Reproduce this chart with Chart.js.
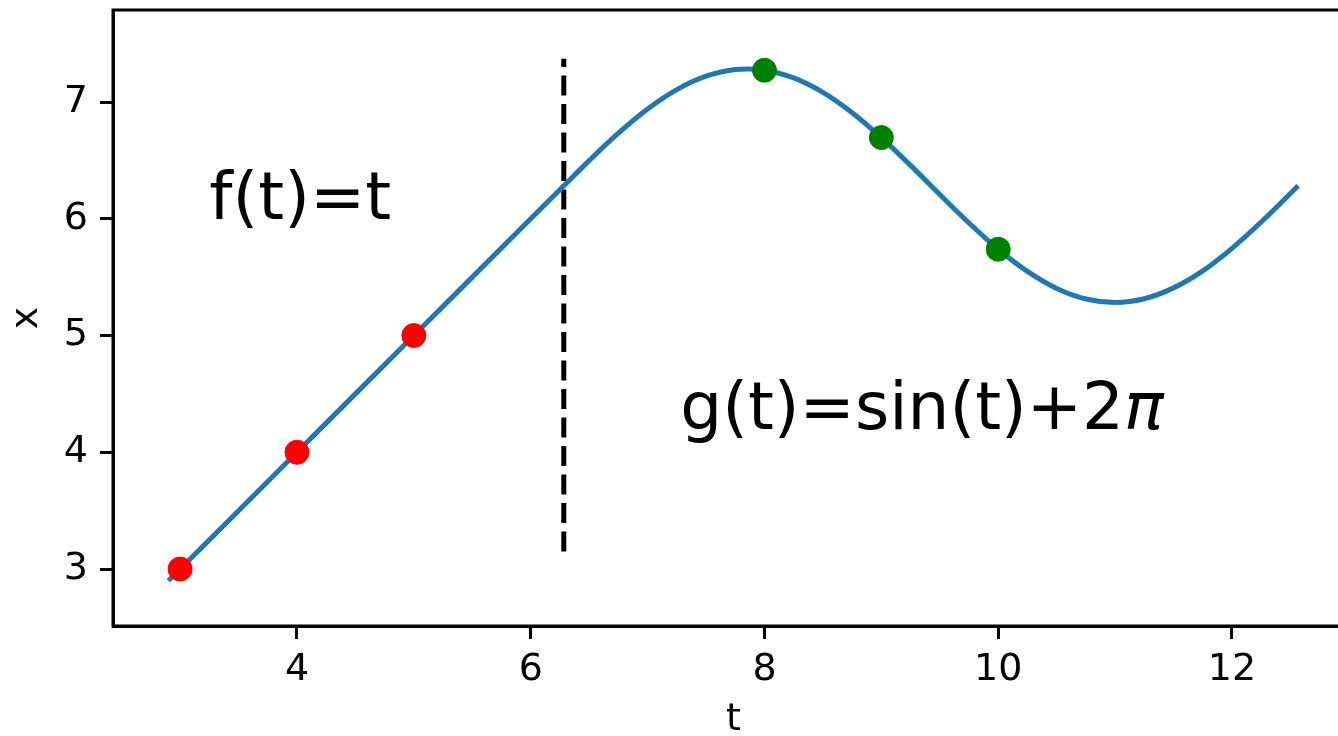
<!DOCTYPE html>
<html>
<head>
<meta charset="utf-8">
<script src="https://cdn.jsdelivr.net/npm/chart.js@4/dist/chart.umd.min.js"></script>
<style>
  html, body { margin: 0; padding: 0; background: #fff; overflow: hidden; }
  #wrap { width: 1380px; height: 736px; }
</style>
</head>
<body>
<div id="wrap"><canvas id="c" width="1380" height="736"></canvas></div>
<script>
// ---- data ----
const curveT = [2.9, 3.5, 4, 4.5, 5, 5.5, 6, 6.283, 6.5, 6.75, 7, 7.25, 7.5, 7.75, 7.854, 8, 8.25, 8.5, 8.75, 9, 9.25, 9.5, 9.75, 10, 10.25, 10.5, 10.75, 11, 11.25, 11.5, 11.75, 12, 12.25, 12.566];
const curveX = [2.9, 3.5, 4, 4.5, 5, 5.5, 6, 6.283, 6.498, 6.733, 6.94, 7.106, 7.221, 7.278, 7.283, 7.272, 7.206, 7.082, 6.908, 6.695, 6.457, 6.208, 5.964, 5.739, 5.549, 5.403, 5.313, 5.283, 5.315, 5.408, 5.554, 5.747, 5.972, 6.283];
const redT = [3, 4, 5];
const redX = [3, 4, 5];
const greenT = [8, 9, 10];
const greenX = [7.272, 6.695, 5.739];
const dashT = [6.283, 6.283];
const dashX = [3.15, 7.37];
const xTicks = [4, 6, 8, 10, 12];
const yTicks = [3, 4, 5, 6, 7];
const xTitle = 't';
const yTitle = 'x';
const fLabel = 'f(t)=t';
const gLabelMain = 'g(t)=sin(t)+2';
const gLabelPi = 'π';
const fLabelAt = [3.25, 6.0];
const gLabelAt = [7.28, 4.2];

const pts = (xs, ys) => xs.map((v, i) => ({x: v, y: ys[i]}));

Chart.defaults.font.family = '"DejaVu Sans", sans-serif';
Chart.defaults.color = '#000';

const overlay = {
  id: 'overlay',
  afterDraw(chart) {
    const {ctx, chartArea: a, scales: {x, y}} = chart;
    ctx.save();
    ctx.strokeStyle = '#000';
    ctx.lineWidth = 3;
    ctx.strokeRect(a.left, a.top, a.right - a.left, a.bottom - a.top);
    ctx.fillStyle = '#000';
    ctx.textAlign = 'left';
    ctx.textBaseline = 'alphabetic';
    ctx.font = '66px "DejaVu Sans"';
    ctx.fillText(fLabel, x.getPixelForValue(fLabelAt[0]), y.getPixelForValue(fLabelAt[1]));
    const gx = x.getPixelForValue(gLabelAt[0]);
    const gy = y.getPixelForValue(gLabelAt[1]);
    ctx.fillText(gLabelMain, gx, gy);
    const w = ctx.measureText(gLabelMain).width;
    ctx.font = 'italic 66px "DejaVu Sans"';
    ctx.fillText(gLabelPi, gx + w, gy);
    ctx.restore();
  }
};

const tickFont = {size: 38, family: '"DejaVu Sans"', lineHeight: 1.2};

new Chart(document.getElementById('c'), {
  type: 'scatter',
  data: {
    datasets: [
      {
        data: pts(redT, redX),
        backgroundColor: '#ff0000', borderColor: '#ff0000',
        pointRadius: 12, pointBorderWidth: 1, showLine: false
      },
      {
        data: pts(greenT, greenX),
        backgroundColor: '#008000', borderColor: '#008000',
        pointRadius: 12, pointBorderWidth: 1, showLine: false
      },
      {
        data: pts(curveT, curveX),
        showLine: true, borderColor: '#1f77b4', borderWidth: 5,
        pointRadius: 0, cubicInterpolationMode: 'monotone', fill: false
      },
      {
        data: pts(dashT, dashX),
        showLine: true, borderColor: '#000', borderWidth: 5,
        borderDash: [20, 8.5], borderCapStyle: 'butt',
        pointRadius: 0, fill: false
      }
    ]
  },
  options: {
    responsive: false,
    devicePixelRatio: 1,
    animation: false,
    layout: {autoPadding: false, padding: {left: 0, top: 10, right: 26, bottom: 0}},
    plugins: {legend: {display: false}, tooltip: {enabled: false}},
    scales: {
      x: {
        type: 'linear', min: 2.426, max: 13.044,
        afterFit(s) { s.height = 110; s.paddingLeft = 0; s.paddingRight = 0; s.paddingTop = 0; s.paddingBottom = 0; },
        afterBuildTicks(s) { s.ticks = xTicks.map(v => ({value: v})); },
        ticks: {font: tickFont, color: '#000', padding: 8, maxRotation: 0, autoSkip: false},
        grid: {display: true, drawOnChartArea: false, drawTicks: true, tickLength: 13, color: '#000', lineWidth: 3},
        border: {display: true, color: '#000', width: 3},
        title: {display: true, text: xTitle, color: '#000',
                font: {size: 38, family: '"DejaVu Sans"', lineHeight: 0.8},
                padding: {top: 0, bottom: 1}}
      },
      y: {
        type: 'linear', min: 2.512, max: 7.788,
        afterFit(s) { s.width = 113; s.paddingTop = 0; s.paddingBottom = 0; s.paddingLeft = 0; s.paddingRight = 0; },
        afterBuildTicks(s) { s.ticks = yTicks.map(v => ({value: v})); },
        ticks: {font: tickFont, color: '#000', padding: 12, autoSkip: false},
        grid: {display: true, drawOnChartArea: false, drawTicks: true, tickLength: 13, color: '#000', lineWidth: 3},
        border: {display: true, color: '#000', width: 3},
        title: {display: true, text: yTitle, color: '#000',
                font: {size: 38, family: '"DejaVu Sans"', lineHeight: 0.8},
                padding: {top: 12, bottom: 0}}
      }
    }
  },
  plugins: [overlay]
});
</script>
</body>
</html>
